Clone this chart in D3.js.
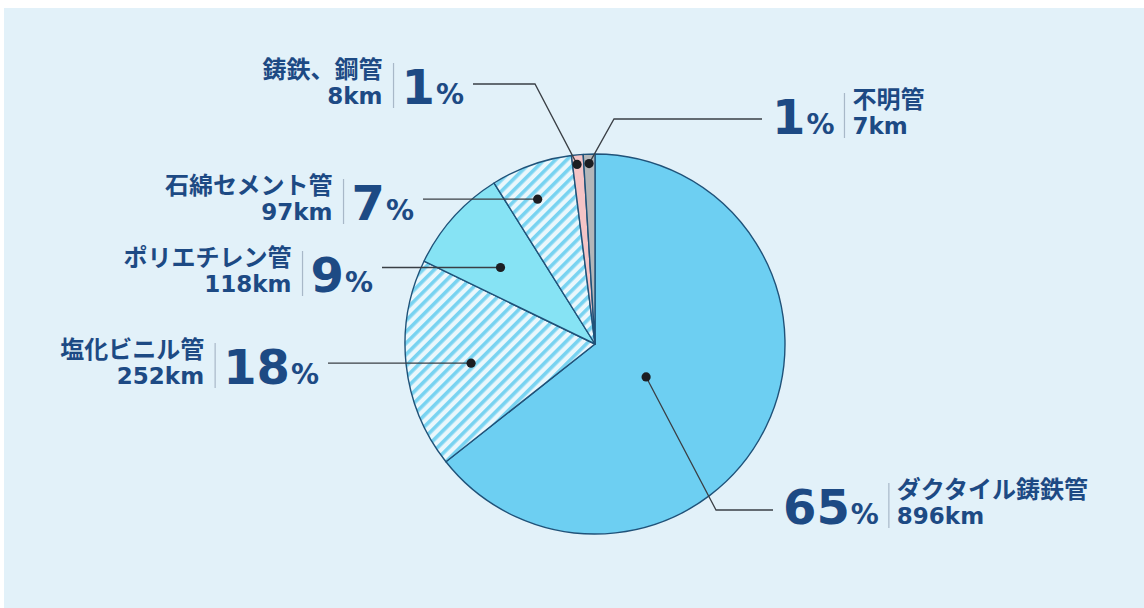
<!DOCTYPE html>
<html>
<head>
<meta charset="utf-8">
<script src="https://cdn.jsdelivr.net/npm/d3@7"></script>
<style>
  html, body { margin: 0; padding: 0; background: #ffffff; }
  svg { display: block; }
</style>
</head>
<body>
<div id="chartdiv"></div>
<script>
/*global d3 */

////////////////////////////////////////
// data
////////////////////////////////////////

var names = ["ダクタイル鋳鉄管", "塩化ビニル管", "ポリエチレン管",
             "石綿セメント管", "鋳鉄、鋼管", "不明管"];
var lengthsKm = [896, 252, 118, 97, 8, 7];
var percents = [65, 18, 9, 7, 1, 1];   //slices are drawn from the shown pct

////////////////////////////////////////
// layout and style
////////////////////////////////////////

var W = 1144, H = 608,
    cx = 595, cy = 344, radius = 190,
    navy = "#1d4a84",
    fills = ["#6dcff2", "hatch", "#86e3f4", "hatch", "#f4c4c6", "#b3b6b9"],
    //where the dot sits in each slice: t along the arc, rf of radius
    dots = [{t: 0.53, rf: 0.32}, {t: 0.46, rf: 0.66}, {t: 0.41, rf: 0.64},
            {t: 0.42, rf: 0.82}, {t: 0.40, rf: 0.95}, {t: 0.47, rf: 0.95}],
    labels = [
        {side: "right", elbow: [716, 510], end: [773, 510], base: 524},
        {side: "left", end: [328, 363], base: 384},
        {side: "left", end: [382, 268], base: 292},
        {side: "left", end: [423, 199], base: 220},
        {side: "left", elbow: [535, 84], end: [473, 84], base: 104},
        {side: "right", elbow: [614, 119], end: [762, 119], base: 134}];

var latin = "'DejaVu Sans', 'Noto Sans CJK JP', sans-serif";

var svg = d3.select("#chartdiv").append("svg")
    .attr("width", W).attr("height", H)
    .attr("viewBox", "0 0 " + W + " " + H);

// hatch pattern for the striped slices
var defs = svg.append("defs");
var pat = defs.append("pattern")
    .attr("id", "hatch")
    .attr("patternUnits", "userSpaceOnUse")
    .attr("width", 8).attr("height", 8)
    .attr("patternTransform", "rotate(45)");
pat.append("rect").attr("width", 8).attr("height", 8)
    .attr("fill", "#eaf7fc");
pat.append("rect").attr("x", 0).attr("width", 3.6).attr("height", 8)
    .attr("fill", "#78d3f1");

// background panel
svg.append("rect")
    .attr("x", 4).attr("y", 8)
    .attr("width", W - 4).attr("height", H - 8)
    .attr("fill", "#e2f1f9");

////////////////////////////////////////
// pie
////////////////////////////////////////

var pie = d3.pie().sort(null).value(function (d) { return d; });
var arcs = pie(percents);
var arc = d3.arc().innerRadius(0).outerRadius(radius);

var pg = svg.append("g").attr("transform", "translate(" + cx + "," + cy + ")");

pg.selectAll("path.slice")
    .data(arcs)
    .enter().append("path")
    .attr("class", "slice")
    .attr("d", arc)
    .attr("fill", function (d, i) {
        return fills[i] === "hatch" ? "url(#hatch)" : fills[i]; })
    .attr("stroke", "#1f5279")
    .attr("stroke-width", 1.4)
    .attr("stroke-linejoin", "round");

function dotPos (d, i) {
    var a = d.startAngle + dots[i].t * (d.endAngle - d.startAngle),
        r = dots[i].rf * radius;
    return [cx + r * Math.sin(a), cy - r * Math.cos(a)];
}

////////////////////////////////////////
// leader lines and labels
////////////////////////////////////////

var lg = svg.append("g");

arcs.forEach(function (d, i) {
    var p = dotPos(d, i), lab = labels[i], pts = [p], num, bb, divx, nx;
    if(lab.elbow) {
        pts.push(lab.elbow); }
    pts.push(lab.elbow ? lab.end : [lab.end[0], p[1]]);
    lg.append("path")
        .attr("d", d3.line()(pts))
        .attr("fill", "none")
        .attr("stroke", "#3a3f45")
        .attr("stroke-width", 1.3);
    lg.append("circle")
        .attr("cx", p[0]).attr("cy", p[1]).attr("r", 4.6)
        .attr("fill", "#1c1e22");

    // big percent
    num = lg.append("text")
        .attr("x", lab.side === "left" ? lab.end[0] - 9 : lab.end[0] + 10)
        .attr("y", lab.base)
        .attr("text-anchor", lab.side === "left" ? "end" : "start")
        .attr("fill", navy)
        .style("font-family", latin)
        .style("font-weight", "bold");
    num.append("tspan").style("font-size", "48px")
        .text(percents[i]);
    num.append("tspan").attr("dx", 1).style("font-size", "28px")
        .text("%");
    bb = num.node().getBBox();

    // divider
    divx = lab.side === "left" ? bb.x - 8 : bb.x + bb.width + 10;
    lg.append("line")
        .attr("x1", divx).attr("x2", divx)
        .attr("y1", lab.base - 41).attr("y2", lab.base + 4)
        .attr("stroke", "#a8b8c8").attr("stroke-width", 1.2);

    // name and length
    nx = lab.side === "left" ? divx - 11 : divx + 8;
    lg.append("text")
        .attr("x", nx).attr("y", lab.base - 26)
        .attr("text-anchor", lab.side === "left" ? "end" : "start")
        .attr("fill", navy)
        .style("font-family", latin)
        .style("font-weight", "bold")
        .style("font-size", "24px")
        .text(names[i]);
    lg.append("text")
        .attr("x", nx).attr("y", lab.base)
        .attr("text-anchor", lab.side === "left" ? "end" : "start")
        .attr("fill", navy)
        .style("font-family", latin)
        .style("font-weight", "bold")
        .style("font-size", "23px")
        .text(lengthsKm[i] + "km");
});
</script>
</body>
</html>
